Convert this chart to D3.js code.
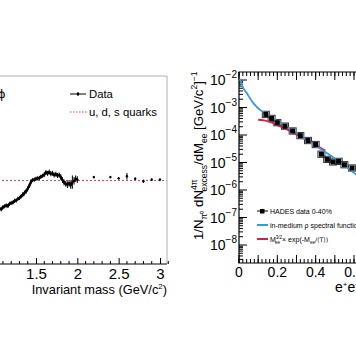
<!DOCTYPE html>
<html><head><meta charset="utf-8">
<script src="https://cdn.jsdelivr.net/npm/d3@7"></script>
<style>
body{margin:0;background:#fff;}
svg{display:block;font-family:"Liberation Sans",Arial,sans-serif;}
</style></head>
<body><svg id="c" width="356" height="364"></svg>
<script>
// ---------- Left panel data (R ratio vs invariant mass) ----------
const leftMass = [1.00,1.02,1.04,1.06,1.08,1.10,1.12,1.14,1.16,1.18,1.20,1.22,1.24,1.26,1.28,1.30,1.32,1.34,1.36,1.38,1.40,1.42,1.44,1.46,1.48,1.50,1.52,1.54,1.56,1.58,1.60,1.62,1.64,1.66,1.68,1.70,1.72,1.74,1.76,1.78,1.80,1.82,1.84,1.86,1.88,1.90,1.92,1.94,1.96,1.98,2.00];
const leftR    = [1.24,1.27,1.30,1.33,1.31,1.36,1.38,1.40,1.39,1.44,1.46,1.47,1.51,1.52,1.56,1.58,1.62,1.66,1.70,1.74,1.80,1.88,1.97,2.01,2.02,2.04,2.05,2.06,2.09,2.11,2.14,2.19,2.17,2.20,2.16,2.17,2.13,2.15,2.12,2.13,2.08,2.01,1.95,1.92,1.90,1.93,1.89,1.96,1.99,2.04,2.02];
const leftErr  = [0.05,0.05,0.05,0.05,0.05,0.05,0.05,0.05,0.05,0.05,0.05,0.05,0.05,0.05,0.05,0.05,0.05,0.06,0.06,0.06,0.06,0.06,0.06,0.05,0.05,0.05,0.05,0.05,0.05,0.05,0.06,0.06,0.06,0.06,0.06,0.06,0.06,0.06,0.06,0.06,0.07,0.07,0.07,0.07,0.08,0.08,0.09,0.16,0.09,0.08,0.08];
const sparseMass = [2.2,2.4,2.5,2.6,2.7,2.8,2.9,3.0];
const sparseR    = [2.08,2.08,2.05,2.10,2.04,1.98,2.02,2.02];
const sparseErr  = [0.03,0.03,0.03,0.08,0.03,0.04,0.03,0.03];
const quarkR = 2.0;
const leftTicks = [1,1.5,2,2.5,3];
const leftLegend = ["Data","u, d, s quarks"];

// ---------- Right panel data (HADES excess) ----------
const hadesMass = [0.14,0.17,0.20,0.24,0.28,0.32,0.36,0.40,0.43,0.46,0.49,0.52,0.55,0.59];
const hadesVal  = [5.6e-4,4.0e-4,2.8e-4,2.1e-4,1.4e-4,9.5e-5,6.3e-5,4.5e-5,2.0e-5,1.3e-5,1.05e-5,1.1e-5,8.3e-6,6.3e-6];
const blueMass = [0.005,0.01,0.02,0.03,0.04,0.055,0.07,0.09,0.11,0.13,0.16,0.2,0.25,0.3,0.35,0.4,0.45,0.5,0.55,0.6,0.65];
const blueVal  = [1.1e-2,8.5e-3,5.5e-3,4.2e-3,3.4e-3,2.3e-3,1.6e-3,1.1e-3,8.2e-4,6.6e-4,4.8e-4,3.2e-4,1.95e-4,1.2e-4,6.9e-5,4.0e-5,2.4e-5,1.4e-5,7.8e-6,4.2e-6,2.3e-6];
const redMass = [0.10,0.13,0.16,0.20,0.25,0.30,0.35,0.40,0.45];
const redVal  = [3.6e-4,3.4e-4,3.0e-4,2.3e-4,1.6e-4,1.05e-4,6.8e-5,4.3e-5,2.7e-5];
const rightXTicks = [0,0.2,0.4,0.6];
const rightYExp = [-2,-3,-4,-5,-6,-7,-8];
const rightLegend = ["HADES data 0-40%","in-medium \u03C1 spectral function"];

const svg = d3.select("#c");

// ================= LEFT PANEL =================
const xL = d3.scaleLinear().domain([1.5,3.0]).range([36,160]);
const yL = d3.scaleLinear().domain([0,4.5]).range([264,76]);
const Lx0 = xL.invert(-10);

const gL = svg.append("g");
gL.append("path").attr("d",`M-5,76H167V264`).attr("fill","none").attr("stroke","#b0b0b0").attr("stroke-width",1);
gL.append("line").attr("x1",xL(Lx0)).attr("x2",xL(3.08)).attr("y1",yL(quarkR)).attr("y2",yL(quarkR))
  .attr("stroke","#d6338a").attr("stroke-width",1).attr("stroke-dasharray","2,2");
const dense = leftMass.map((m,i)=>({m,r:leftR[i],e:leftErr[i]}));
const sparse = sparseMass.map((m,i)=>({m,r:sparseR[i],e:sparseErr[i]}));
const allD = dense.concat(sparse);
gL.append("path").datum(dense).attr("fill","none").attr("stroke","#000").attr("stroke-width",2.2)
  .attr("d",d3.line().x(d=>xL(d.m)).y(d=>yL(d.r)));
gL.selectAll(".eb").data(allD).enter().append("line")
  .attr("x1",d=>xL(d.m)).attr("x2",d=>xL(d.m)).attr("y1",d=>yL(d.r-d.e)).attr("y2",d=>yL(d.r+d.e))
  .attr("stroke","#000").attr("stroke-width",1);
gL.selectAll(".pt").data(allD).enter().append("circle")
  .attr("cx",d=>xL(d.m)).attr("cy",d=>yL(d.r)).attr("r",1.2).attr("fill","#000");
const axL = d3.axisBottom(xL).tickValues(leftTicks).tickFormat(d3.format("")).tickSize(-6).tickPadding(4);
const gax = gL.append("g").attr("transform","translate(0,264)").call(axL);
gax.select(".domain").remove();
gax.selectAll("text").attr("font-size",15).attr("fill","#000").attr("font-family","Liberation Sans, Arial, sans-serif");
gL.append("line").attr("x1",-5).attr("x2",167).attr("y1",264).attr("y2",264).attr("stroke","#000");
const minorL = d3.range(0.9,3.11,0.1).filter(v=>Math.abs(v*2-Math.round(v*2))>1e-6);
gL.selectAll(".mt").data(minorL).enter().append("line")
  .attr("x1",d=>xL(d)).attr("x2",d=>xL(d)).attr("y1",264).attr("y2",261).attr("stroke","#000");
const tl = gL.append("text").attr("x",167).attr("y",294).attr("text-anchor","end").attr("font-size",12.8);
tl.append("tspan").text("Invariant mass (GeV/c");
tl.append("tspan").text("2").attr("font-size",8).attr("dy",-5);
tl.append("tspan").text(")").attr("dy",5);
gL.append("text").attr("x",-2).attr("y",98).attr("font-size",13).text("\u03D5");
gL.append("line").attr("x1",70).attr("x2",86).attr("y1",94).attr("y2",94).attr("stroke","#000");
gL.append("line").attr("x1",78).attr("x2",78).attr("y1",92).attr("y2",96).attr("stroke","#000");
gL.append("circle").attr("cx",78).attr("cy",94).attr("r",1.3);
gL.append("text").attr("x",89).attr("y",98).attr("font-size",11.3).text(leftLegend[0]);
gL.append("line").attr("x1",70).attr("x2",87).attr("y1",112).attr("y2",112)
  .attr("stroke","#d6338a").attr("stroke-dasharray","1.5,1.5");
gL.append("text").attr("x",89).attr("y",116).attr("font-size",11.3).text(leftLegend[1]);

// ================= RIGHT PANEL =================
const xR = d3.scaleLinear().domain([0,0.6]).range([239,354]);
const yR = d3.scaleLog().domain([1e-2,1e-8]).range([80,245]);
const gR = svg.append("g");
const fTop = 72, fBot = 263, fLeft = 239;
gR.append("path").attr("d",`M360,${fTop}H${fLeft}V${fBot}H360`).attr("fill","none").attr("stroke","#000").attr("stroke-width",1.2);
const yMaj = rightYExp.map(e=>Math.pow(10,e));
const yMin = [];
for(let e=-9;e<=-2;e++) for(let k=2;k<=9;k++){const v=k*Math.pow(10,e); const p=yR(v); if(p>fTop&&p<fBot) yMin.push(v);}
gR.selectAll(".ymaj").data(yMaj).enter().append("line")
  .attr("x1",fLeft).attr("x2",fLeft+8).attr("y1",d=>yR(d)).attr("y2",d=>yR(d)).attr("stroke","#000");
gR.selectAll(".ymin").data(yMin).enter().append("line")
  .attr("x1",fLeft).attr("x2",fLeft+4).attr("y1",d=>yR(d)).attr("y2",d=>yR(d)).attr("stroke","#000");
rightYExp.forEach(e=>{
  const t = gR.append("text").attr("x",237).attr("y",yR(Math.pow(10,e))+5).attr("text-anchor","end").attr("font-size",14);
  t.append("tspan").text("10");
  t.append("tspan").text("\u2212"+(-e)).attr("font-size",10).attr("dy",-7);
});
const xMaj = d3.range(0,0.61,0.1);
const xMin = d3.range(0,0.61,0.02);
[[fBot,-1],[fTop,1]].forEach(([yy,s])=>{
  gR.selectAll(null).data(xMaj).enter().append("line")
    .attr("x1",d=>xR(d)).attr("x2",d=>xR(d)).attr("y1",yy).attr("y2",yy+s*8).attr("stroke","#000");
  gR.selectAll(null).data(xMin).enter().append("line")
    .attr("x1",d=>xR(d)).attr("x2",d=>xR(d)).attr("y1",yy).attr("y2",yy+s*4).attr("stroke","#000");
});
gR.selectAll(".xl").data(rightXTicks).enter().append("text")
  .attr("x",d=>xR(d)).attr("y",277).attr("text-anchor","middle").attr("font-size",14)
  .text(d=>d3.format("")(d));
const xt = gR.append("text").attr("x",335).attr("y",292).attr("font-size",14);
xt.append("tspan").text("e");
xt.append("tspan").text("+").attr("font-size",8).attr("dy",-5);
xt.append("tspan").text("e").attr("dy",5);
xt.append("tspan").text("\u2212").attr("font-size",8).attr("dy",-5);
xt.append("tspan").text(" invariant mass").attr("dy",5);

const yt = gR.append("text").attr("transform","translate(203,240) rotate(-90)").attr("font-size",13.2);
yt.append("tspan").text("1/N");
yt.append("tspan").text("\u03C0\u2070").attr("font-size",8.5).attr("dy",4);
yt.append("tspan").text(" dN").attr("dy",-4);
yt.append("tspan").text("4\u03C0").attr("font-size",8.5).attr("dy",-6);
yt.append("tspan").text("excess").attr("font-size",8.5).attr("dx",-12).attr("dy",10);
yt.append("tspan").text("/dM").attr("dy",-4);
yt.append("tspan").text("ee").attr("font-size",8.5).attr("dy",4);
yt.append("tspan").text(" [GeV/c").attr("dy",-4);
yt.append("tspan").text("2").attr("font-size",8.5).attr("dy",-6);
yt.append("tspan").text("]").attr("dy",6);
yt.append("tspan").text("\u22121").attr("font-size",8.5).attr("dy",-6);

svg.append("clipPath").attr("id","rc").append("rect").attr("x",fLeft).attr("y",fTop).attr("width",120).attr("height",fBot-fTop);
const gD = gR.append("g").attr("clip-path","url(#rc)");
const hd = hadesMass.map((m,i)=>({m,v:hadesVal[i]}));
gD.selectAll(".box").data(hd).enter().append("rect")
  .attr("x",d=>xR(d.m)-3.5).attr("width",7)
  .attr("y",d=>yR(d.v*1.3)).attr("height",d=>yR(d.v/1.3)-yR(d.v*1.3))
  .attr("fill","none").attr("stroke","#333").attr("stroke-width",1);
gD.append("path").datum(redMass.map((m,i)=>[m,redVal[i]])).attr("fill","none")
  .attr("stroke","#d4204a").attr("stroke-width",2)
  .attr("d",d3.line().curve(d3.curveMonotoneX).x(d=>xR(d[0])).y(d=>yR(d[1])));
gD.append("path").datum(blueMass.map((m,i)=>[m,blueVal[i]])).attr("fill","none")
  .attr("stroke","#3a9ae0").attr("stroke-width",1.8)
  .attr("d",d3.line().curve(d3.curveMonotoneX).x(d=>xR(d[0])).y(d=>yR(d[1])));
gD.selectAll(".sq").data(hd).enter().append("rect")
  .attr("x",d=>xR(d.m)-2.5).attr("y",d=>yR(d.v)-2.5).attr("width",5).attr("height",5).attr("fill","#000");

const lg = gR.append("g");
lg.append("line").attr("x1",257).attr("x2",268).attr("y1",211).attr("y2",211).attr("stroke","#000");
lg.append("rect").attr("x",260).attr("y",209).attr("width",4.5).attr("height",4.5).attr("fill","#000");
lg.append("text").attr("x",270).attr("y",213.5).attr("font-size",7).text(rightLegend[0]);
lg.append("line").attr("x1",257).attr("x2",268).attr("y1",225).attr("y2",225).attr("stroke","#3a9ae0").attr("stroke-width",2);
lg.append("text").attr("x",270).attr("y",227.5).attr("font-size",7).text(rightLegend[1]);
lg.append("line").attr("x1",257).attr("x2",268).attr("y1",239).attr("y2",239).attr("stroke","#d4204a").attr("stroke-width",2);
const l3 = lg.append("text").attr("x",270).attr("y",241.5).attr("font-size",7);
l3.append("tspan").text("M");
l3.append("tspan").text("3/2").attr("font-size",4.5).attr("dy",-3);
l3.append("tspan").text("ee").attr("font-size",4.5).attr("dx",-7).attr("dy",5);
l3.append("tspan").text(" \u00D7 exp(-M").attr("dy",-2);
l3.append("tspan").text("ee").attr("font-size",4.5).attr("dy",2);
l3.append("tspan").text("/\u27E8T\u27E9)").attr("dy",-2).attr("font-family","DejaVu Sans").attr("font-size",6.3);
</script></body></html>
